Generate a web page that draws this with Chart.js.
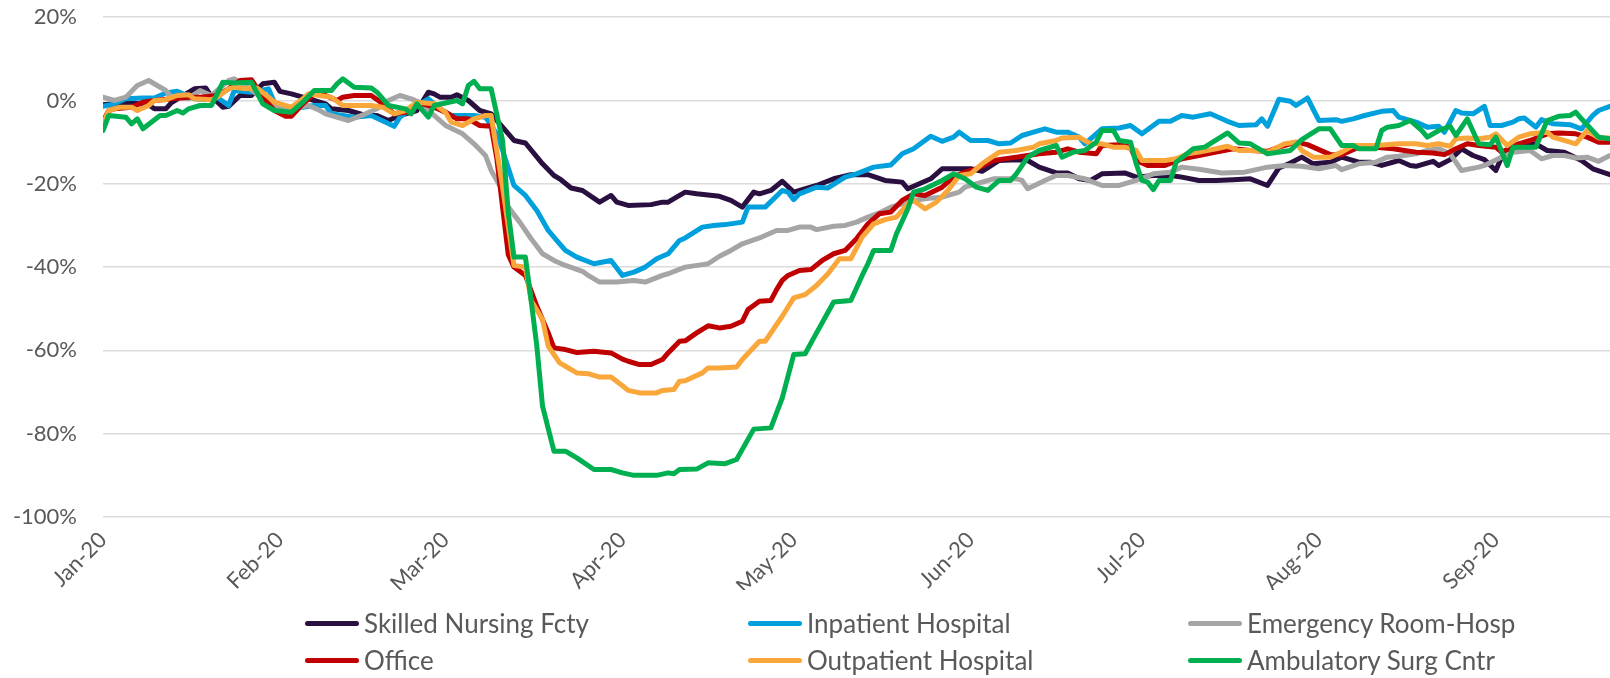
<!DOCTYPE html>
<html>
<head>
<meta charset="utf-8">
<script src="https://cdn.jsdelivr.net/npm/chart.js@4.4.0/dist/chart.umd.min.js"></script>
<style>
  body { margin: 0; background: #fff; }
  #wrap { position: relative; width: 1610px; height: 678px; overflow: hidden; }
  #chart { position: absolute; left: 0; top: -22px; }
  #legend { position: absolute; left: 0; top: 0; width: 1610px; height: 678px; }
  .item { position: absolute; display: flex; align-items: center; font-family: Lato, sans-serif; font-size: 26px; color: #595959; white-space: nowrap; transform: translateY(-50%); }
  .swatch { width: 54px; height: 5px; border-radius: 3px; margin-right: 5px; }
</style>
</head>
<body>
<div id="wrap">
  <canvas id="chart" width="1610" height="612"></canvas>
  <div id="legend"></div>
</div>
<script>
'use strict';

// x values are days since 1 Jan 2020
const monthDays = [0, 31, 60, 91, 121, 152, 182, 213, 244];
const monthLabels = ['Jan-20', 'Feb-20', 'Mar-20', 'Apr-20', 'May-20', 'Jun-20', 'Jul-20', 'Aug-20', 'Sep-20'];
const yTicks = [20, 0, -20, -40, -60, -80, -100];

const seriesNames = ['Skilled Nursing Fcty', 'Inpatient Hospital', 'Emergency Room-Hosp', 'Office', 'Outpatient Hospital', 'Ambulatory Surg Cntr'];
const seriesColors = ['#2a1040', '#00a0dc', '#a5a5a5', '#c00000', '#f9a63a', '#00b050'];

// [day, % change]
const skilledNursing = [[0,-1],[4,-0.5],[8,-1],[9,-2],[11,-2],[12,-0.5],[16,2.8],[18,3],[19,1],[21,-1.6],[22,-1.4],[24,1.2],[26,1.2],[28,4],[30,4.4],[31,2.2],[33,1.6],[35,0.8],[37,0],[39,-0.8],[40,-2],[43,-2.4],[46,-3.6],[48,-3.6],[50,-4.8],[52,-3.6],[55,-2.4],[57,2],[58,1.6],[59,0.8],[61,0.8],[62,1.4],[64,0],[66,-2.4],[68,-3.2],[70,-6.4],[72,-9.6],[74,-10.2],[77,-15.2],[79,-18],[80,-18.8],[82,-21],[84,-21.6],[87,-24.4],[89,-22.8],[90,-24.4],[92,-25.2],[96,-25],[98,-24.4],[99,-24.4],[101,-22.8],[102,-22],[104,-22.4],[108,-23],[110,-24],[112,-25.6],[114,-22],[115,-22.4],[117,-21.6],[119,-19.4],[121,-22],[125,-20.4],[128,-18.8],[131,-17.8],[134,-17.8],[137,-19.2],[140,-19.6],[141,-21.2],[143,-20],[145,-18.8],[147,-16.4],[150,-16.4],[152,-16.4],[154,-17],[157,-14.4],[160,-14.2],[162,-14.4],[164,-16],[167,-17.4],[169,-17.4],[171,-18.8],[173,-19.2],[175,-17.6],[179,-17.4],[181,-18.4],[184,-18],[187,-18],[189,-18.4],[192,-19.2],[195,-19.2],[198,-19],[201,-18.8],[204,-20.4],[206,-16.2],[208,-15],[210,-13.6],[212,-15.2],[215,-14.8],[217,-13.6],[220,-14.8],[222,-14.8],[224,-15.6],[227,-14.4],[229,-15.6],[230,-15.8],[233,-14.6],[234,-15.6],[236,-14.2],[238,-11.6],[240,-13.2],[242,-14.2],[244,-16.8],[245,-13.6],[247,-11.6],[249,-10.4],[251,-10.4],[253,-12],[256,-12.4],[259,-14.4],[261,-16.4],[264,-17.8]];

const inpatient = [[0,-1.4],[2,-0.8],[4,0.4],[7,0.6],[9,0.6],[11,1.8],[13,2.2],[16,0.4],[18,0.2],[20,0.8],[22,-1.2],[23,2.4],[26,2],[29,2.8],[30,-0.4],[32,-2],[35,-1.6],[37,-1.2],[39,-1.2],[40,-3.2],[44,-4],[47,-3.6],[51,-6.2],[52,-4],[54,-2],[57,0.4],[59,-2],[61,-3.6],[65,-3.6],[67,-4],[69,-8],[70,-12],[72,-20.4],[74,-22.8],[76,-26.4],[78,-31.2],[80,-34.4],[81,-36],[83,-37.6],[86,-39.2],[89,-38.4],[91,-42],[93,-41.2],[95,-40],[97,-38],[99,-36.8],[101,-33.6],[102,-33],[105,-30.4],[107,-30],[109,-29.8],[112,-29.2],[113,-25.6],[116,-25.6],[119,-21.6],[120,-22],[121,-23.8],[122,-22.4],[125,-20.8],[127,-21],[130,-18.4],[132,-17.6],[135,-16],[138,-15.5],[140,-12.8],[142,-11.6],[145,-8.6],[147,-9.8],[149,-8.8],[150,-7.6],[152,-9.6],[155,-9.6],[157,-10.4],[159,-10.2],[161,-8.4],[163,-7.6],[165,-6.8],[167,-7.6],[169,-7.6],[171,-8.8],[172,-10.4],[175,-6.8],[178,-6.6],[180,-6],[182,-8],[185,-5],[187,-5],[189,-3.6],[191,-4],[194,-3.2],[197,-5],[199,-6],[202,-5.8],[203,-4.4],[204,-6.2],[206,0.3],[208,-0.2],[209,-1.2],[211,0.6],[213,-4.8],[216,-4.6],[217,-5],[219,-4.4],[221,-3.6],[224,-2.6],[226,-2.4],[227,-4],[230,-5.2],[232,-6.4],[234,-6.2],[235,-7.6],[237,-2.4],[238,-3],[240,-3.2],[242,-1.4],[243,-6],[245,-6],[247,-5.2],[248,-4.4],[249,-4.2],[251,-6.4],[252,-4.6],[254,-5.6],[257,-5.8],[259,-6.8],[261,-3.6],[262,-2.4],[264,-1.4]];

const emergencyRoom = [[0,0.8],[2,0],[4,0.8],[6,3.6],[8,4.8],[11,2.4],[12,0.8],[15,0.4],[17,2.4],[19,1.2],[22,4.8],[23,5.2],[25,3.6],[28,0.4],[30,-1.6],[33,-2],[36,-1.2],[38,-2.4],[39,-3.2],[43,-4.8],[46,-3.2],[48,-2],[50,0],[52,1.2],[54,0.4],[56,-0.8],[58,-3.6],[60,-6],[63,-8],[65,-10.4],[67,-13.2],[68,-16.8],[70,-21.6],[71,-25.6],[73,-29.2],[75,-33.2],[77,-36.8],[79,-38.4],[81,-39.6],[84,-41],[85,-42],[87,-43.6],[90,-43.6],[93,-43.2],[95,-43.6],[98,-42],[99,-41.6],[102,-40],[105,-39.4],[106,-39.2],[108,-37.4],[110,-36],[112,-34.4],[115,-33],[118,-31.2],[120,-31.2],[122,-30.4],[124,-30.4],[125,-31],[128,-30.2],[130,-30],[132,-29.2],[134,-28],[136,-27],[138,-25.6],[140,-24.8],[142,-24],[144,-23.6],[147,-23.2],[150,-22],[151,-20.8],[154,-19.6],[156,-18.8],[160,-18.8],[161,-19.2],[162,-21.2],[165,-19.2],[167,-18],[169,-18],[172,-18.8],[175,-20.4],[178,-20.4],[181,-19.2],[184,-17.6],[187,-17.2],[189,-16],[192,-16.5],[196,-17.4],[200,-17.2],[204,-16],[207,-15.6],[210,-15.8],[213,-16.4],[216,-15.6],[217,-16.6],[220,-15.2],[223,-14.8],[225,-13.6],[227,-13.4],[230,-12.8],[232,-12],[234,-11.6],[236,-12.8],[238,-16.8],[241,-16],[242,-15.6],[245,-13.6],[247,-12.4],[250,-12],[252,-14],[254,-13.2],[256,-13.2],[258,-13.8],[260,-13.6],[262,-14.6],[264,-13.2]];

const office = [[0,-5],[1,-2.4],[2,-2],[5,-1.6],[7,-0.4],[9,0],[12,0.4],[15,0.8],[17,0.8],[20,1.2],[22,2.8],[24,4.8],[26,5],[28,0.8],[30,-2.4],[32,-3.8],[33,-3.8],[35,-0.8],[37,1.6],[39,1.2],[41,0],[42,0.8],[44,1.2],[47,1.2],[49,-0.8],[51,-3.2],[53,-2.8],[56,-0.8],[58,-1.6],[60,-2.8],[62,-4.4],[64,-4.4],[66,-6],[68,-6.2],[69,-14],[70,-25.6],[71,-37],[72,-40],[74,-42],[76,-49.4],[78,-55.8],[79,-59.4],[81,-59.8],[83,-60.5],[86,-60.2],[89,-60.6],[91,-62.1],[92,-62.6],[94,-63.4],[96,-63.4],[98,-62.2],[99,-60.6],[101,-57.8],[102,-57.7],[104,-55.8],[106,-54.1],[108,-54.6],[110,-54.2],[112,-53],[113,-50.2],[115,-48.2],[117,-48],[118,-45.4],[119,-43.2],[120,-42],[122,-40.8],[124,-40.6],[126,-38.4],[128,-36.8],[130,-36],[132,-33.2],[134,-29.6],[136,-27.2],[138,-26.8],[140,-24],[142,-22.4],[144,-22.8],[147,-20.8],[149,-18.4],[151,-17.2],[153,-16.4],[156,-14.4],[160,-13.6],[162,-13.2],[164,-12.8],[167,-12.4],[169,-11.6],[171,-12.4],[174,-12.8],[175,-10.8],[178,-10.6],[180,-11.2],[181,-14.4],[183,-15.6],[186,-15.6],[189,-14],[192,-13.2],[195,-12.4],[198,-11.6],[201,-12],[204,-12.2],[206,-11.2],[209,-10],[211,-10.6],[215,-13],[217,-13],[220,-11.2],[223,-11.2],[226,-11.6],[228,-12],[230,-12.4],[233,-12.6],[235,-13],[237,-11.6],[239,-10.4],[241,-10.8],[244,-11.2],[245,-12.4],[248,-10.4],[250,-9.6],[253,-8],[255,-7.8],[258,-8],[260,-8.8],[262,-10],[264,-10]];

const outpatient = [[0,-5.6],[1,-2.4],[3,-1.6],[5,-1.6],[6,-2.4],[8,-1.2],[9,0],[11,0.2],[13,1.2],[15,1.4],[16,0.4],[19,0.2],[20,0.8],[22,2.8],[23,3.2],[25,2.8],[27,3],[29,0.8],[30,-0.4],[33,-1.6],[35,0.4],[36,1.6],[38,1.2],[40,0.8],[42,-1.2],[45,-1.2],[47,-1.2],[49,-1.6],[51,-3.2],[53,-2.4],[55,-0.4],[58,-0.8],[60,-2.8],[61,-5.2],[63,-6],[65,-4.4],[67,-3.6],[68,-3.6],[70,-20.8],[72,-39.6],[74,-40],[75,-48],[77,-52.6],[78,-59],[80,-63],[81,-63.8],[83,-65.4],[85,-65.6],[87,-66.4],[89,-66.4],[91,-68.5],[92,-69.6],[94,-70.2],[97,-70.2],[98,-69.6],[100,-69.4],[101,-67.4],[102,-67.3],[105,-65.4],[106,-64.2],[108,-64.2],[111,-64],[112,-62.2],[115,-57.8],[116,-57.8],[119,-51.8],[121,-47.4],[123,-46.6],[125,-44.4],[127,-41.6],[129,-38],[131,-38],[133,-32.8],[135,-29.6],[137,-28.6],[139,-28],[141,-24.8],[142,-24],[144,-26],[146,-24.4],[148,-21.6],[150,-18],[152,-17.6],[154,-15.2],[157,-12.4],[160,-12],[163,-11.2],[164,-10.4],[167,-9.6],[168,-9],[171,-8.8],[173,-10.4],[175,-10.4],[177,-11.2],[179,-11.2],[181,-12],[182,-14.4],[184,-14.4],[186,-14.4],[188,-14],[190,-12.8],[192,-12.4],[195,-11.6],[197,-11],[199,-12],[202,-12],[204,-12.4],[207,-10.4],[209,-10],[210,-12],[212,-13.6],[215,-13.6],[217,-12.4],[219,-10.8],[223,-10.8],[227,-10.4],[230,-10.4],[232,-10.8],[234,-10.4],[236,-11],[237,-9.2],[239,-9],[241,-9.2],[243,-8.8],[244,-8],[246,-10.8],[248,-8.8],[250,-8],[253,-7.6],[254,-8.8],[257,-10],[258,-10.4],[260,-7.2],[262,-9],[264,-9]];

const ambulatory = [[0,-7.2],[1,-3.6],[4,-4],[5,-5.6],[6,-4.4],[7,-6.8],[10,-3.6],[11,-3.6],[13,-2.4],[14,-3],[15,-2],[17,-1.2],[19,-1.2],[21,4.4],[23,4.2],[26,4.4],[28,-0.8],[30,-2.4],[33,-2.8],[35,-0.4],[37,2.4],[40,2.4],[41,4],[42,5.2],[44,3.2],[47,3],[48,2],[50,-1.2],[53,-2],[54,-3.2],[55,-0.8],[57,-4],[58,-1.2],[60,-0.6],[62,0],[63,-0.8],[64,3.6],[65,4.6],[66,2.8],[68,2.8],[70,-9.6],[71,-27],[72,-37.6],[74,-37.6],[75,-48],[76,-59],[77,-73.4],[79,-84.2],[81,-84.2],[83,-85.8],[86,-88.6],[89,-88.6],[91,-89.4],[93,-90],[97,-90],[99,-89.4],[100,-89.6],[101,-88.6],[104,-88.5],[106,-87],[109,-87.2],[111,-86.2],[114,-78.9],[117,-78.6],[119,-71.4],[121,-61],[123,-60.8],[125,-55.8],[128,-48.4],[131,-48],[133,-42],[134,-39.2],[135,-36],[138,-36],[139,-32],[141,-26],[142,-22],[144,-21.2],[147,-19.2],[149,-17.6],[151,-18.8],[153,-20.8],[155,-21.6],[157,-19.2],[159,-19.2],[160,-17.6],[162,-13.6],[164,-12],[167,-10.8],[168,-13.6],[170,-12.4],[172,-12],[174,-10],[175,-7.2],[177,-7.2],[178,-9.6],[180,-10],[181,-15.2],[182,-19.2],[183,-19.6],[184,-21.4],[185,-19.2],[187,-19.2],[188,-14.8],[191,-11.6],[193,-11.2],[197,-7.8],[199,-10.2],[201,-10.4],[204,-12.8],[208,-12],[210,-9.4],[213,-6.8],[215,-6.8],[217,-10.8],[219,-10.8],[220,-11.6],[223,-11.6],[224,-7.2],[225,-6.4],[227,-6],[229,-4.8],[231,-7.2],[232,-8.8],[234,-7.2],[236,-6.2],[237,-8.4],[239,-4.4],[241,-10.4],[243,-10.6],[244,-8.8],[246,-15.6],[247,-11.2],[251,-11.2],[253,-4.8],[255,-3.8],[257,-3.6],[258,-2.8],[259,-4.4],[262,-8.8],[264,-9.2]];

const allSeries = [skilledNursing, inpatient, emergencyRoom, office, outpatient, ambulatory];

const tickFont = { family: 'Lato', size: 22 };
const axisColor = '#595959';

let datasets = [];
for (let i = 0; i < allSeries.length; i++) {
  datasets.push({
    label: seriesNames[i],
    data: allSeries[i].map(p => ({ x: p[0], y: p[1] })),
    borderColor: seriesColors[i],
    backgroundColor: seriesColors[i],
    borderWidth: 5,
    borderCapStyle: 'round',
    borderJoinStyle: 'round',
    pointRadius: 0,
    tension: 0,
    // later series are drawn on top, like the original
    order: allSeries.length - i
  });
}

let chartObj = {
  type: 'line',
  data: { datasets: datasets },
  options: {
    responsive: false,
    animation: false,
    layout: { padding: 0 },
    plugins: {
      legend: { display: false },
      tooltip: { enabled: false }
    },
    scales: {
      x: {
        type: 'linear',
        min: 0,
        max: 264,
        grid: { display: false },
        border: { display: false },
        afterBuildTicks: function (axis) {
          axis.ticks = monthDays.map(d => ({ value: d }));
        },
        afterFit: function (axis) {
          axis.height = 73;
        },
        ticks: {
          color: axisColor,
          font: tickFont,
          minRotation: 45,
          maxRotation: 45,
          padding: 2,
          callback: function (value) {
            let idx = monthDays.indexOf(value);
            return idx >= 0 ? monthLabels[idx] : '';
          }
        }
      },
      y: {
        min: -100,
        max: 20,
        afterBuildTicks: function (axis) {
          axis.ticks = yTicks.map(v => ({ value: v }));
        },
        afterFit: function (axis) {
          axis.width = 103;
        },
        grid: { color: '#dcdcdc', lineWidth: 1.5, drawTicks: false },
        border: { display: false },
        ticks: {
          color: axisColor,
          font: tickFont,
          padding: 26,
          callback: function (value) {
            return value + '%';
          }
        }
      }
    }
  }
};

let chart = new Chart(document.getElementById('chart'), chartObj);

// legend: 2 rows x 3 columns, built from the chart's datasets
let legendElem = document.getElementById('legend');
let colLeft = [305, 748, 1188];
let rowMid = [623, 660];
chart.data.datasets.forEach(function (ds, i) {
  let item = document.createElement('div');
  item.className = 'item';
  item.style.left = colLeft[i % 3] + 'px';
  item.style.top = rowMid[Math.floor(i / 3)] + 'px';
  let sw = document.createElement('span');
  sw.className = 'swatch';
  sw.style.background = ds.borderColor;
  let txt = document.createElement('span');
  txt.textContent = ds.label;
  item.appendChild(sw);
  item.appendChild(txt);
  legendElem.appendChild(item);
});
</script>
</body>
</html>
